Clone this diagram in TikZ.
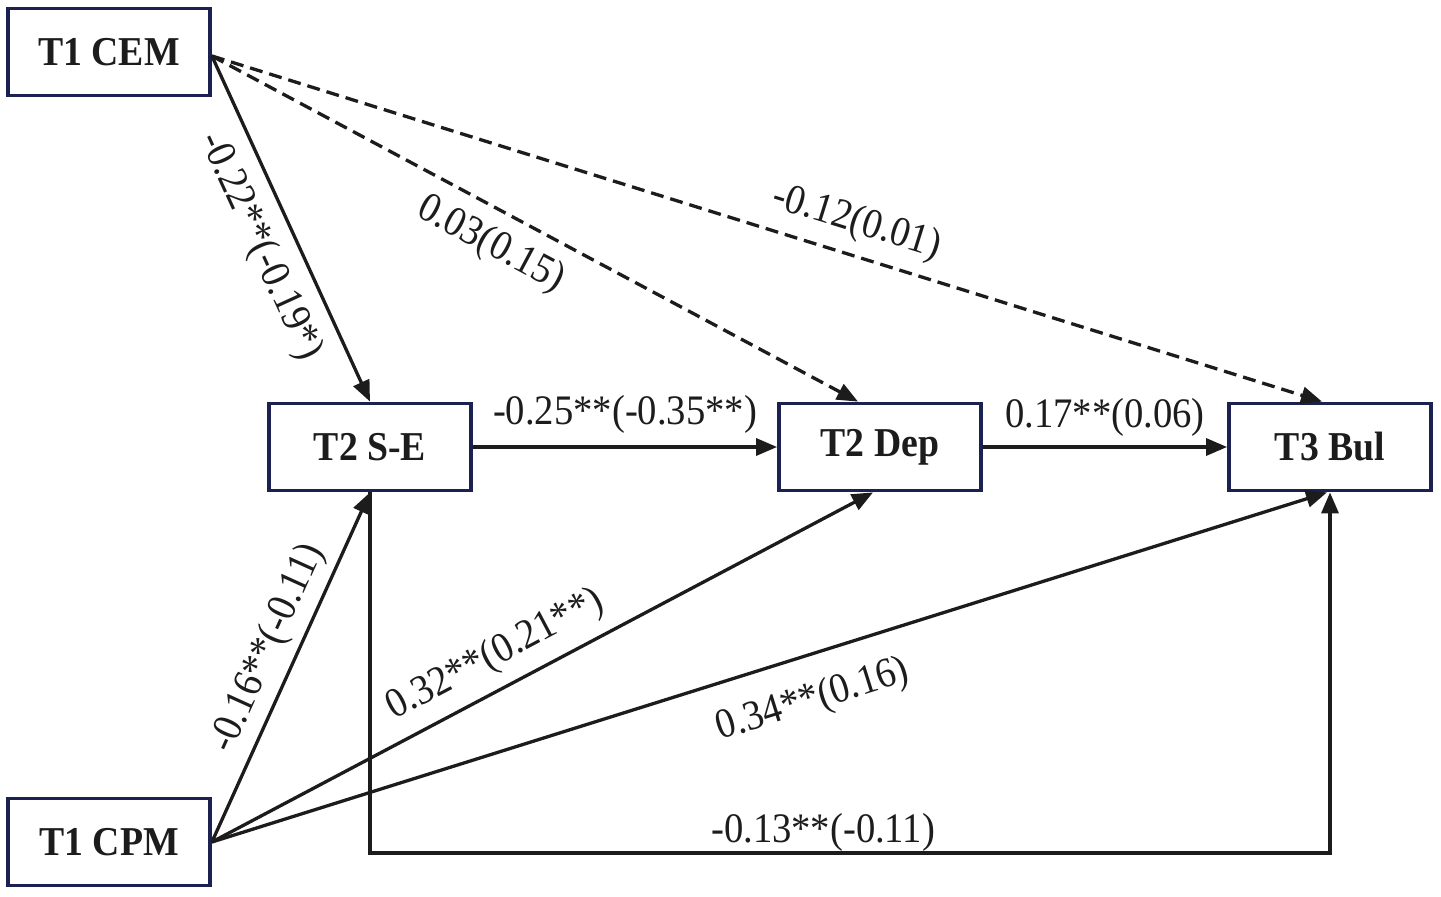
\documentclass[tikz,border=0pt]{standalone}
\usepackage{fontspec}
\setmainfont{Liberation Serif}[FakeStretch=0.92]
\usetikzlibrary{arrows.meta}
\definecolor{navy}{HTML}{1B2150}
\definecolor{ink}{HTML}{1C1C1C}
\begin{document}
\begin{tikzpicture}[x=1pt,y=-1pt,
  box/.style={draw=navy,line width=3.8pt,fill=white,minimum width=202pt,minimum height=87pt,
    inner sep=0pt,text=ink,font=\fontsize{41}{46}\selectfont\bfseries},
  arr/.style={draw=ink,line width=3.3pt,-{Triangle[length=21pt,width=17pt]}},
  dsh/.style={arr,dash pattern=on 13pt off 7pt},
  lbl/.style={text=ink,font=\fontsize{42}{46}\selectfont,inner sep=0pt}]
\useasboundingbox (0,0) rectangle (1441,897);
\node[box] (cem) at (109,52) {T1 CEM};
\node[box] (se)  at (370,447) {T2 S-E};
\node[box] (dep) at (880,447) {T2 Dep};
\node[box] (bul) at (1330,447) {T3 Bul};
\node[box] (cpm) at (109,842) {T1 CPM};
\coordinate (low) at (370,853);
% from T1 CEM
\draw[arr] ([yshift=-4pt]cem.east) -- node[lbl,pos=0.508,sloped,below=15pt] {-0.22**(-0.19*)} (se.north);
\draw[dsh] ([yshift=-4pt]cem.east) -- node[lbl,pos=0.457,sloped,below=14pt] {0.03(0.15)} ([xshift=-22pt]dep.north);
\draw[dsh] ([yshift=-4pt]cem.east) -- node[lbl,pos=0.572,sloped,above=12pt] {-0.12(0.01)} ([xshift=-8pt]bul.north);
% middle row
\draw[arr] (se.east) -- node[lbl,above=12pt] {-0.25**(-0.35**)} (dep.west);
\draw[arr] (dep.east) -- node[lbl,above=9pt] {0.17**(0.06)} (bul.west);
% from T1 CPM
\draw[arr] (cpm.east) -- node[lbl,pos=0.52,sloped,above=8pt] {-0.16**(-0.11)} (se.south);
\draw[arr] (cpm.east) -- node[lbl,pos=0.452,sloped,above=12pt] {0.32**(0.21**)} ([xshift=-7pt]dep.south);
\draw[arr] (cpm.east) -- node[lbl,pos=0.527,sloped,below=24pt] {0.34**(0.16)} ([xshift=-3pt]bul.south);
% S-E to Bul
\draw[arr] (se.south) -- (low) -| node[lbl,pos=0.236,above=0pt] {-0.13**(-0.11)} (bul.south);
\end{tikzpicture}
\end{document}
